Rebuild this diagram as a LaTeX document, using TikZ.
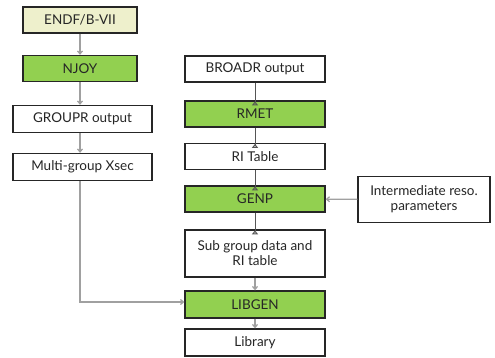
\documentclass[tikz,border=0pt]{standalone}
\usepackage{fontspec}
\setmainfont{Lato}
\usetikzlibrary{arrows.meta}
\definecolor{boxgreen}{HTML}{92D050}
\definecolor{boxcream}{HTML}{EEF0CC}
\definecolor{lgray}{HTML}{A0A0A0}
\definecolor{dgray}{HTML}{555555}
\tikzset{
  box/.style={draw=black!85, line width=1.3pt, minimum height=#1, inner sep=0pt, align=center, font=\fontsize{13.5}{15}\selectfont, text=black!85},
  box/.default=26pt,
  gline/.style={draw=lgray, line width=1.2pt, -{Straight Barb[length=3pt,width=5pt]}},
  uline/.style={draw=dgray, line width=1pt, -{Triangle[open,reversed,length=4pt,width=6pt]}, shorten >=-5pt},
}
\begin{document}
\begin{tikzpicture}[x=1pt,y=-1pt]
\useasboundingbox (0,0) rectangle (495,358);
\fill[white] (0,0) rectangle (495,358);
% left column
\node[box, fill=boxcream, minimum width=114pt] (endf) at (80,20) {ENDF/B-VII};
\node[box, fill=boxgreen, minimum width=114pt] (njoy) at (80,68.5) {NJOY};
\node[box=27pt, minimum width=139pt] (groupr) at (82.5,119) {GROUPR output};
\node[box=27pt, minimum width=139pt] (multi) at (82.5,167) {Multi-group Xsec};
% right column
\node[box, minimum width=140pt] (broadr) at (255,69) {BROADR output};
\node[box, fill=boxgreen, minimum width=140pt] (rmet) at (255,114) {RMET};
\node[box, minimum width=140pt] (ritab) at (255,156.5) {RI Table};
\node[box, fill=boxgreen, minimum width=140pt] (genp) at (255,199) {GENP};
\node[box=47pt, minimum width=140pt] (subg) at (255,253.5) {Sub group data and\\RI table};
\node[box=27pt, fill=boxgreen, minimum width=140pt] (libgen) at (255,304.5) {LIBGEN};
\node[box=27pt, minimum width=140pt] (lib) at (255,342.5) {Library};
\node[box=46pt, minimum width=132pt] (inter) at (424,199.5) {Intermediate reso.\\parameters};
% connectors
\draw[gline] (endf) -- (njoy);
\draw[gline] (njoy.south -| endf.south) -- (groupr.north -| endf.south);
\draw[gline] (groupr.south -| endf.south) -- (multi.north -| endf.south);
\coordinate (corner) at (80,302);
\draw[gline] (multi.south -| endf.south) -- (corner) -- (libgen.west |- corner);
\draw[uline] (broadr) -- (rmet.north);
\draw[uline] (rmet) -- (ritab.north);
\draw[uline] (ritab) -- (genp.north);
\draw[uline] (genp) -- (subg.north);
\draw[gline] (subg) -- (libgen);
\draw[gline] (libgen) -- (lib);
\draw[gline] (inter) -- (genp);
\end{tikzpicture}
\end{document}
